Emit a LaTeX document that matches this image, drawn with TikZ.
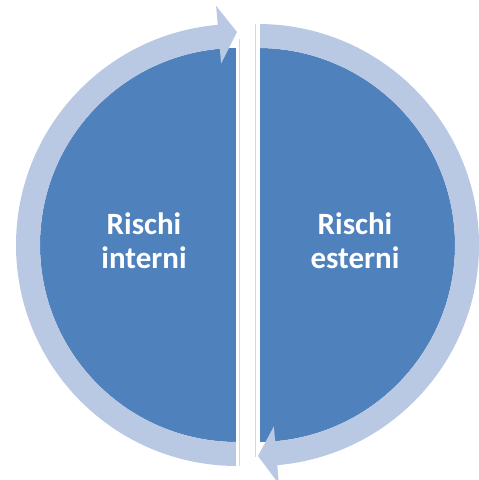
\documentclass[tikz,border=0pt]{standalone}
\usepackage{fontspec}
\setmainfont{Carlito}
\definecolor{darkblue}{HTML}{4F81BD}
\definecolor{lightblue}{HTML}{B9C9E3}
\definecolor{edgegray}{HTML}{D3DAE5}
\tikzset{
  txt/.style={text=white, font=\bfseries\fontsize{31}{34}\selectfont, align=center, inner sep=0pt},
  ring/.style={fill=lightblue},
  half/.style={fill=darkblue},
  gapline/.style={draw=white, line width=3pt},
  paleline/.style={draw=edgegray, line width=1pt}
}
\begin{document}
\begin{tikzpicture}[x=1pt,y=1pt]
\useasboundingbox (0,0) rectangle (479,480);
\def\Ro{221}
\def\Ri{197}
% left half
\begin{scope}[shift={(237,235)}]
  \path[half] (90:\Ri) arc[start angle=90,end angle=270,radius=\Ri] -- cycle;
  \path[ring] (270:\Ro) arc[start angle=270,end angle=95,radius=\Ro]
     -- (95:240) -- (90:213) -- (95:182) -- (95:\Ri)
     arc[start angle=95,end angle=270,radius=\Ri] -- cycle;
  \coordinate (lb) at (0,-\Ro);
  \coordinate (lt) at (0,210);
  \coordinate (lpb) at (2.5,-\Ro);
  \coordinate (lpt) at (2.5,206);
\end{scope}
% right half
\begin{scope}[shift={(258,235)}]
  \path[half] (-90:\Ri) arc[start angle=-90,end angle=90,radius=\Ri] -- cycle;
  \path[ring] (90:\Ro) arc[start angle=90,end angle=-85,radius=\Ro]
     -- (-85:240) -- (-90:211) -- (-85:182) -- (-85:\Ri)
     arc[start angle=-85,end angle=90,radius=\Ri] -- cycle;
  \coordinate (rb) at (0,-208);
  \coordinate (rt) at (0,\Ro);
  \coordinate (rpb) at (-2.5,-212);
  \coordinate (rpt) at (-2.5,\Ro);
\end{scope}
\path[gapline] (lb) -- (lt);
\path[paleline] (lpb) -- (lpt);
\path[gapline] (rb) -- (rt);
\path[paleline] (rpb) -- (rpt);
% texts
\node[txt] (li) at (144,239) {Rischi\\interni};
\node[txt] (re) at (355,239) {Rischi\\esterni};
\end{tikzpicture}
\end{document}
